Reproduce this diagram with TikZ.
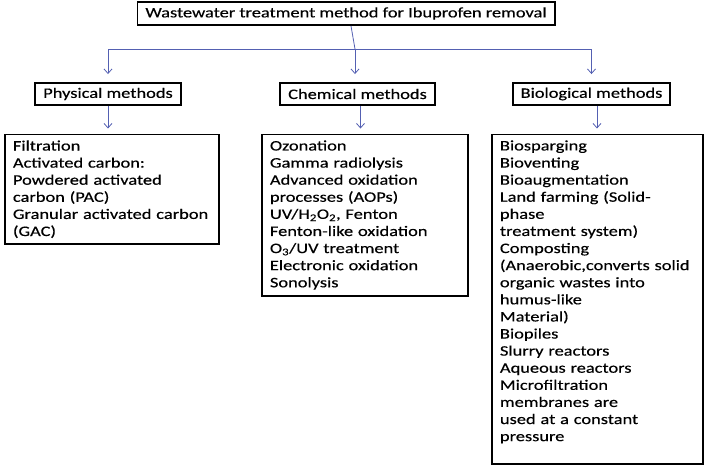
\documentclass[tikz,border=0pt]{standalone}
\usepackage{fontspec}
\setmainfont{Carlito}[FakeStretch=1.27,FakeBold=0.4]
\usetikzlibrary{arrows.meta}
\definecolor{bleulien}{RGB}{84,96,178}

\begin{document}
\begin{tikzpicture}[x=1pt,y=-1pt,
	cadre/.style={draw=black, line width=1.9pt, inner xsep=8pt, font=\fontsize{14.5}{17.1}\selectfont},
	titre/.style={cadre, minimum height=23pt},
	methode/.style={cadre, minimum height=22pt},
	liste/.style={cadre, anchor=north west, align=left, inner ysep=6pt},
	lien/.style={draw=bleulien, line width=0.8pt},
	fleche/.style={lien, -{Straight Barb[length=4.5pt,width=8pt]}}]

		\useasboundingbox (0,0) rectangle (705,467);

		\def\yCat{94}
		\def\yHaut{49}
		\def\yListe{133.5}

		    % Titre et les trois familles de methodes
		    \node[titre] (racine) at (346,13.5) {Wastewater treatment method for Ibuprofen removal};

		    \node[methode] (phys) at (108,\yCat) {Physical methods};
		    \node[methode] (chim) at (357.5,\yCat) {Chemical methods};
		    \node[methode] (bio) at (591.5,\yCat) {Biological methods};

		    % Les listes
		    \node[liste, text width=198pt] (physL) at (4,\yListe) {Filtration\\Activated carbon:\\Powdered activated\\carbon (PAC)\\Granular activated carbon\\(GAC)};

		    \node[liste, text width=190pt] (chimL) at (261,\yListe) {Ozonation\\Gamma radiolysis\\Advanced oxidation\\processes (AOPs)\\UV/H\textsubscript{2}O\textsubscript{2}, Fenton\\Fenton-like oxidation\\O\textsubscript{3}/UV treatment\\Electronic oxidation\\Sonolysis};

		    \node[liste, text width=195pt] (bioL) at (491,\yListe) {Biosparging\\Bioventing\\Bioaugmentation\\Land farming (Solid-\\phase\\treatment system)\\Composting\\(Anaerobic,converts solid\\organic wastes into\\humus-like\\Material)\\Biopiles\\Slurry reactors\\Aqueous reactors\\Microfiltration\\membranes are\\used at a constant\\pressure\\ \mbox{}};

		    % Les fleches
		    \coordinate (jonction) at (355,\yHaut);
		    \coordinate (depart) at ([xshift=5pt]racine.south);
		    \draw[lien] (depart) -- (jonction);

		    \draw[fleche, shorten >=8pt] (jonction) -| (phys.north);
		    \draw[fleche, shorten >=8pt] (jonction) -- (jonction |- chim.north);
		    \draw[fleche, shorten >=8pt] (jonction) -| (bio.north);

		    \coordinate (sousChim) at ([xshift=3pt]chim.south);
		    \coordinate (sousBio) at ([xshift=5.5pt]bio.south);

		    \draw[fleche, shorten >=5pt] (phys.south) -- (phys.south |- physL.north);
		    \draw[fleche, shorten >=5pt] (sousChim) -- (sousChim |- chimL.north);
		    \draw[fleche, shorten >=5pt] (sousBio) -- (sousBio |- bioL.north);

	\end{tikzpicture}
\end{document}
